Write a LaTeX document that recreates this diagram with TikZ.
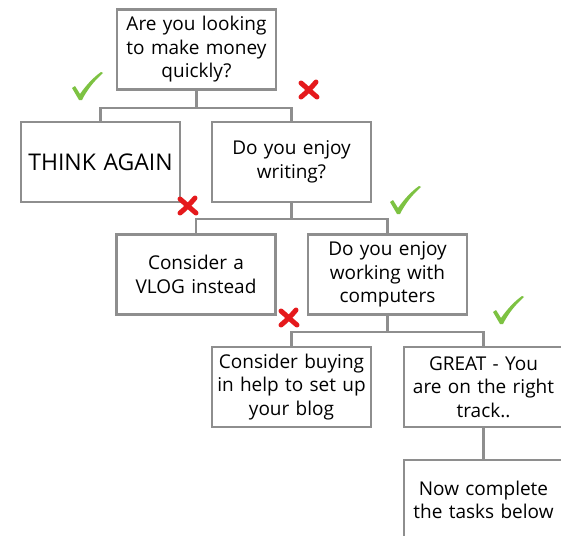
\documentclass[tikz,border=0pt]{standalone}
\usepackage{fontspec}
\setmainfont{Open Sans}
\definecolor{boxgray}{HTML}{8E8E8E}
\definecolor{tickgreen}{HTML}{7DC242}
\definecolor{crossred}{HTML}{E5191C}
\begin{document}
\begin{tikzpicture}[x=1pt,y=-1pt,
  box/.style={draw=boxgray, line width=2.2pt, minimum width=159pt, minimum height=80pt,
    inner sep=2pt, text width=155pt, align=center, font=\fontsize{19}{23.5}\selectfont},
  link/.style={draw=boxgray, line width=2.2pt},
  tick/.pic={\fill[tickgreen] (0,16) -- (3,14) -- (8,22) .. controls (15,12) and (22,5) .. (29,0) -- (31,1)
      .. controls (22,9) and (15,18) .. (10,28) -- (7,28) -- cycle;},
  cross/.pic={\draw[crossred, line width=5pt, line cap=round] (3,3) .. controls (9,8) and (14,13) .. (19,17);
      \draw[crossred, line width=5pt, line cap=round] (18,2) .. controls (13,8) and (8,13) .. (3,17);}
]
\useasboundingbox (0,0) rectangle (561,535);
\fill[white] (0,0) rectangle (561,535);

\node[box] (q1) at (196.5,49.5) {Are you looking\\to make money\\quickly?};
\node[box, font=\fontsize{23}{26}\selectfont] (think) at (100.5,162) {THINK AGAIN};
\node[box] (q2) at (291.5,162) {Do you enjoy\\writing?};
\node[box] (vlog) at (196,274.5) {Consider a\\VLOG instead};
\node[box] (q3) at (387.5,274.5) {Do you enjoy\\working with\\computers};
\node[box] (buy) at (291.5,387) {Consider buying\\in help to set up\\your blog};
\node[box] (great) at (483.5,387) {GREAT - You\\are on the right\\track..};
\node[box] (now) at (483.5,500) {Now complete\\the tasks below};

\draw[link] (q1.south) -- ++(0,17) coordinate (j1);
\draw[link] (think.north) |- (j1) -| (q2.north);
\draw[link] (q2.south) -- ++(0,16) coordinate (j2);
\draw[link] (vlog.north) |- (j2) -| (q3.north);
\draw[link] (q3.south) -- ++(0,16) coordinate (j3);
\draw[link] (buy.north) |- (j3) -| (great.north);
\draw[link] (great.south) -- (now.north);

\pic at (72,72) {tick};
\pic at (390,186) {tick};
\pic at (493,296) {tick};
\pic at (298,80) {cross};
\pic at (177,196) {cross};
\pic at (278,308) {cross};
\end{tikzpicture}
\end{document}
